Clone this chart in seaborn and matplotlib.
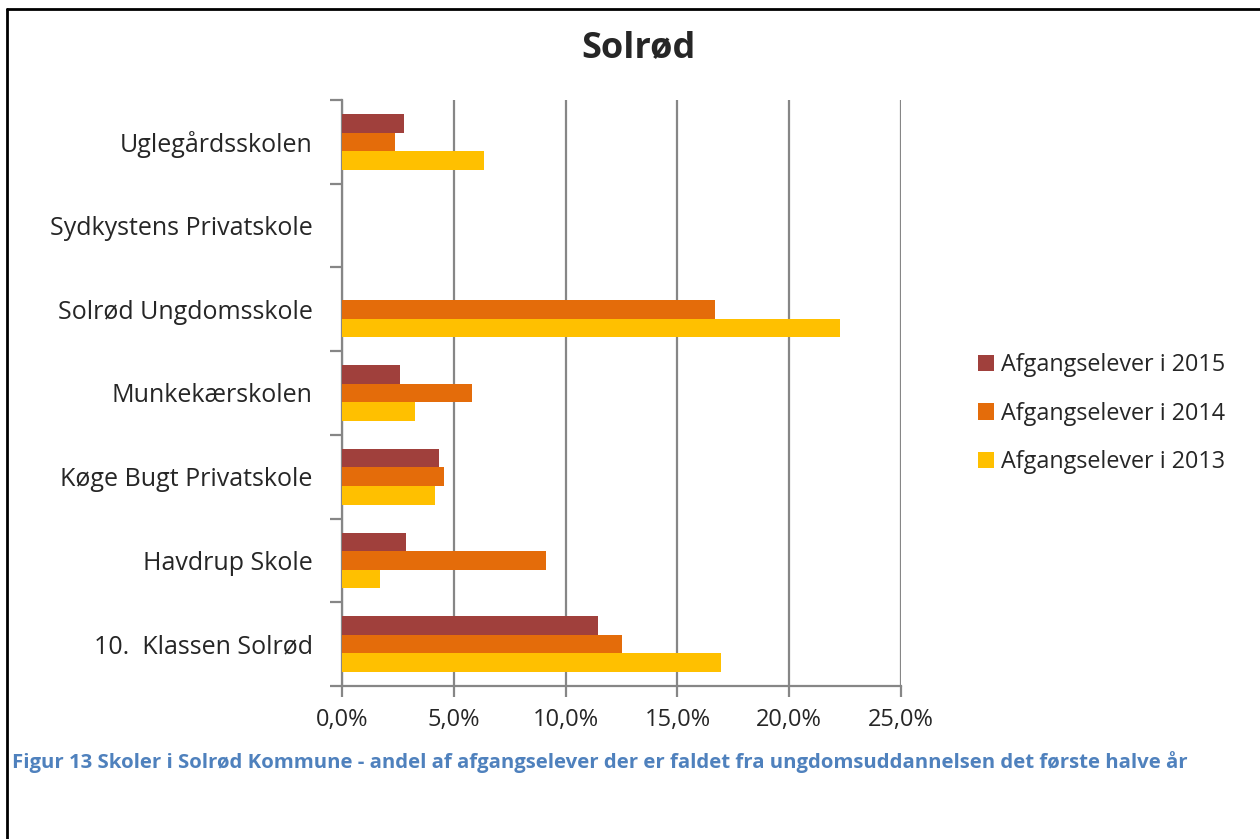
import matplotlib.pyplot as plt
import seaborn as sns
import numpy as np
import pandas as pd
from matplotlib.lines import Line2D
from matplotlib.ticker import FuncFormatter, FixedLocator

# Data (percent of leavers)
schools = ["Uglegårdsskolen", "Sydkystens Privatskole", "Solrød Ungdomsskole",
           "Munkekærskolen", "Køge Bugt Privatskole", "Havdrup Skole",
           "10.  Klassen Solrød"]
series = ["Afgangselever i 2015", "Afgangselever i 2014", "Afgangselever i 2013"]
pct_2015 = [2.76, 0.0, 0.0, 2.58, 4.34, 2.87, 11.44]
pct_2014 = [2.36, 0.0, 16.69, 5.81, 4.55, 9.11, 12.51]
pct_2013 = [6.36, 0.0, 22.28, 3.25, 4.17, 1.72, 16.93]
colors = ["#A0403C", "#E46C0A", "#FFC000"]
x_ticks = [0, 5, 10, 15, 20, 25]

df = pd.DataFrame({
    "skole": schools * 3,
    "serie": [s for s in series for _ in schools],
    "andel": pct_2015 + pct_2014 + pct_2013,
})

sns.set_theme(style="white")
plt.rcParams['font.family'] = ['Open Sans', 'DejaVu Sans']

fig = plt.figure(figsize=(12.6, 8.39), dpi=100)
ax = fig.add_axes([342 / 1260, 1 - 686 / 839, (901 - 342) / 1260, (686 - 100) / 839])

grid_c = "#868686"
sns.barplot(data=df, x="andel", y="skole", hue="serie", order=schools,
            hue_order=series, palette=colors, orient="h", width=0.667,
            gap=0, linewidth=0, saturation=1, legend=True, ax=ax, zorder=3)

ax.set_xlim(0, 25)
ax.set_ylim(len(schools) - 0.5, -0.5)
ax.xaxis.set_major_locator(FixedLocator(x_ticks))
ax.xaxis.set_major_formatter(FuncFormatter(lambda v, p: f"{v:.1f}%".replace(".", ",")))
ax.grid(axis="x", color=grid_c, linewidth=1.6, zorder=0)
ax.set_axisbelow(True)
ax.set_xlabel("")
ax.set_ylabel("")

for s in ["top", "right"]:
    ax.spines[s].set_visible(False)
for s in ["left", "bottom"]:
    ax.spines[s].set_color(grid_c)
    ax.spines[s].set_linewidth(1.6)

ax.tick_params(axis="x", direction="out", length=8, width=1.6, color=grid_c,
               labelsize=17, pad=8, bottom=True)
ax.tick_params(axis="y", which="major", length=0, labelsize=18, pad=21)
ax.yaxis.set_minor_locator(FixedLocator(np.arange(-0.5, len(schools), 1.0)))
ax.tick_params(axis="y", which="minor", direction="out", length=9, width=1.6,
               color=grid_c, left=True)

leg = ax.legend(loc="center left", bbox_to_anchor=(1.10, 0.465), frameon=False,
                fontsize=16.8, handlelength=0.7, handleheight=0.7,
                handletextpad=0.3, labelspacing=1.05)

fig.text(638 / 1260, 1 - 48 / 839, "Solrød", ha="center", va="center",
         fontsize=26, fontweight="bold")
fig.text(12 / 1260, 1 - 762 / 839,
         "Figur 13 Skoler i Solrød Kommune - andel af afgangselever der er faldet fra ungdomsuddannelsen det første halve år",
         ha="left", va="center", fontsize=14.7, fontweight="bold", color="#4F81BD")

# frame from the source document (top and left edges)
fig.add_artist(Line2D([7 / 1260, 1], [1 - 8.5 / 839, 1 - 8.5 / 839],
                      transform=fig.transFigure, color="black", linewidth=2))
fig.add_artist(Line2D([7 / 1260, 7 / 1260], [0, 1 - 8.5 / 839],
                      transform=fig.transFigure, color="black", linewidth=2))

fig.savefig("out.png", dpi=100)
